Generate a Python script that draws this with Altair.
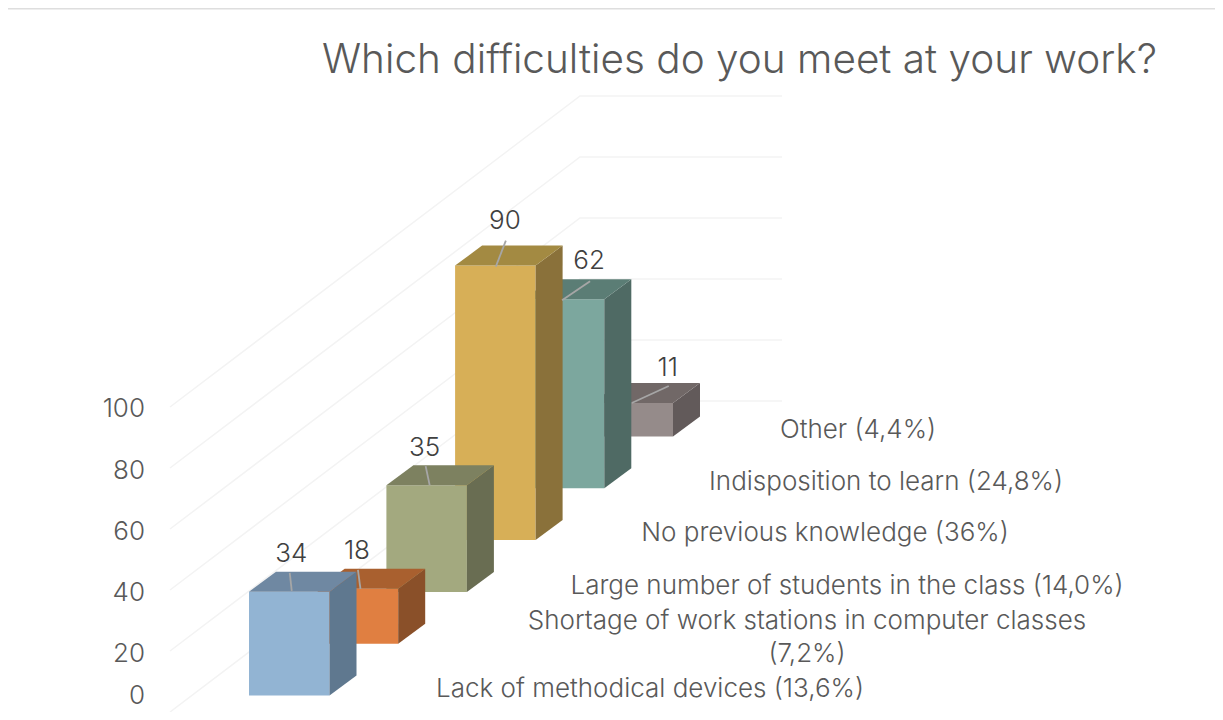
import altair as alt
import pandas as pd

TITLE = "Which difficulties do you meet at your work?"
values = [34, 18, 35, 90, 62, 11]
categories = [
    ["Lack of methodical devices (13,6%)"],
    ["Shortage of work stations in computer classes", "(7,2%)"],
    ["Large number of students in the class (14,0%)"],
    ["No previous knowledge (36%)"],
    ["Indisposition to learn (24,8%)"],
    ["Other (4,4%)"],
]
ticks = [0, 20, 40, 60, 80, 100]
front = ["#92B4D3", "#E07F41", "#A3A97F", "#D7AF57", "#7CA79E", "#958B8A"]
top = ["#6F88A2", "#A9602F", "#7D8160", "#A38A42", "#5B7D75", "#716867"]
side = ["#5F788F", "#8A5029", "#696D52", "#8A713A", "#4F6A64", "#625A5A"]

# projection of the oblique 3-D scene on to the page
X0, Y0, STEP_X, STEP_Y = 249.0, 695.5, 68.7, 51.8
BAR_W, DEPTH_X, DEPTH_Y, UNIT = 80.5, 27.0, 20.0, 3.05
WALL_X0, WALL_X1, WALL_X2, WALL_Y0, WALL_Y1 = 170, 580, 782, 712, 401
# layout of annotations relative to each bar's top face
LABEL_DX = [2, -1, -2, 9.5, 25, 35]
LABEL_DY = [-38, -38, -37, -45, -38, -35]
LEAD_X0 = [0.5, 0, -1, 10.5, 26, 36]
LEAD_Y0 = [-19, -19, -19, -25, -18, -17]
LEAD_X1 = [2.5, 2.5, 3, 0.5, -2, -1]
LEAD_Y1 = [-1, 0, 0, 1, 1, 0]
CAT_X = [650, 807, 847, 825, 886, 858]
CAT_Y = [689, 621, 586, 533, 482, 430]
LINE_H = 33
AXIS_Y = [696, 654, 593, 532, 471, 409]
FONT = "Inter"
WEIGHT = 300

xs = alt.Scale(domain=[8, 1215], nice=False, zero=False)
ys = alt.Scale(domain=[712, 8], nice=False, zero=False)


def X(f="x", **k):
    return alt.X(f, type="quantitative", scale=xs, axis=None, **k)


def Y(f="y", **k):
    return alt.Y(f, type="quantitative", scale=ys, axis=None, **k)


layers = []

# top rule of the page
layers.append(
    alt.Chart(pd.DataFrame({"x": [8], "x2": [1215], "y": [8.5]}))
    .mark_rule(color="#DEDEDE", strokeWidth=2)
    .encode(x=X(), x2="x2", y=Y())
)

# gridlines on floor-to-wall
grid = []
for t in ticks:
    h = UNIT * t
    for o, (gx, gy) in enumerate(
        [(WALL_X0, WALL_Y0 - h), (WALL_X1, WALL_Y1 - h), (WALL_X2, WALL_Y1 - h)]
    ):
        grid.append({"t": t, "o": o, "x": gx, "y": gy})
layers.append(
    alt.Chart(pd.DataFrame(grid))
    .mark_line(color="#F3F3F3", strokeWidth=1.5, clip=True)
    .encode(x=X(), y=Y(), detail="t:N", order="o:Q")
)

# bars back to front
for i in reversed(range(len(values))):
    v = values[i]
    xl = X0 + STEP_X * i
    xr = xl + BAR_W
    yb = Y0 - STEP_Y * i
    yt = yb - UNIT * v
    f = pd.DataFrame({"x": [xl], "x2": [xr], "y": [yb], "y2": [yt]})
    layers.append(
        alt.Chart(f).mark_rect(color=front[i]).encode(x=X(), x2="x2", y=Y(), y2="y2")
    )
    s = pd.DataFrame(
        {
            "x": [xr, xr + DEPTH_X],
            "y": [yb, yb - DEPTH_Y],
            "y2": [yt, yt - DEPTH_Y],
        }
    )
    layers.append(
        alt.Chart(s)
        .mark_area(color=side[i], orient="vertical", opacity=1)
        .encode(x=X(), y=Y(), y2="y2")
    )
    tp = pd.DataFrame(
        {
            "y": [yt, yt - DEPTH_Y],
            "x": [xl, xl + DEPTH_X],
            "x2": [xr, xr + DEPTH_X],
        }
    )
    layers.append(
        alt.Chart(tp)
        .mark_area(color=top[i], orient="horizontal", opacity=1)
        .encode(y=Y(), x=X(), x2="x2")
    )

# leader lines and value labels
cx = [X0 + STEP_X * i + BAR_W / 2 for i in range(len(values))]
cy = [Y0 - STEP_Y * i - UNIT * values[i] for i in range(len(values))]
lead = pd.DataFrame(
    {
        "x": [c + d for c, d in zip(cx, LEAD_X0)],
        "y": [c + d for c, d in zip(cy, LEAD_Y0)],
        "x2": [c + d for c, d in zip(cx, LEAD_X1)],
        "y2": [c + d for c, d in zip(cy, LEAD_Y1)],
    }
)
layers.append(
    alt.Chart(lead)
    .mark_rule(color="#A6A6A6", strokeWidth=1.8)
    .encode(x=X(), x2="x2", y=Y(), y2="y2")
)
labels = pd.DataFrame(
    {
        "x": [c + d for c, d in zip(cx, LABEL_DX)],
        "y": [c + d for c, d in zip(cy, LABEL_DY)],
        "t": [str(v) for v in values],
    }
)
layers.append(
    alt.Chart(labels)
    .mark_text(font=FONT, fontWeight=WEIGHT, fontSize=26, color="#404040", align="center", baseline="middle")
    .encode(x=X(), y=Y(), text="t:N")
)

# category labels along the floor
rows = []
for i, lines in enumerate(categories):
    for j, line in enumerate(lines):
        rows.append({"x": CAT_X[i], "y": CAT_Y[i] + LINE_H * j, "t": line})
layers.append(
    alt.Chart(pd.DataFrame(rows))
    .mark_text(font=FONT, fontWeight=WEIGHT, fontSize=26, color="#595959", align="center", baseline="middle")
    .encode(x=X(), y=Y(), text="t:N")
)

# value axis labels
axis = pd.DataFrame(
    {
        "x": [145] * len(ticks),
        "y": AXIS_Y,
        "t": [str(t) for t in ticks],
    }
)
layers.append(
    alt.Chart(axis)
    .mark_text(font=FONT, fontWeight=WEIGHT, fontSize=26, color="#595959", align="right", baseline="middle")
    .encode(x=X(), y=Y(), text="t:N")
)

# title
layers.append(
    alt.Chart(pd.DataFrame({"x": [739.5], "y": [61], "t": [TITLE]}))
    .mark_text(font=FONT, fontWeight=WEIGHT, fontSize=40.5, color="#595959", align="center", baseline="middle")
    .encode(x=X(), y=Y(), text="t:N")
)

chart = (
    alt.layer(*layers)
    .properties(
        width=1207,
        height=704,
        padding=0,
        autosize=alt.AutoSizeParams(type="none"),
        background="white",
    )
    .configure_view(stroke=None)
)
chart.save("out.html", embed_options={"renderer": "svg", "actions": False})
